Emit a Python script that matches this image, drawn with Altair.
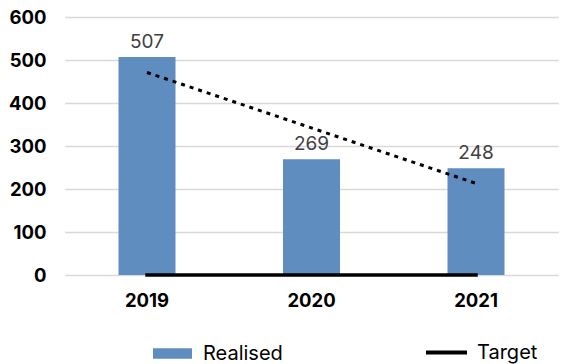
import altair as alt
import pandas as pd

years = ["2019", "2020", "2021"]
realised = [507, 269, 248]
target = [0, 0, 0]
trend_years = ["2019", "2021"]
trend_values = [471, 213]

bars_df = pd.DataFrame({"year": years, "value": realised, "series": ["Realised"] * 3})
target_df = pd.DataFrame({"year": years, "value": target, "series": ["Target"] * 3})
trend_df = pd.DataFrame({"year": trend_years, "value": trend_values})

FONT = "Inter"
BLUE = "#5f8dc0"

xscale = alt.Scale(paddingInner=0, paddingOuter=0, range=[6.75, 500.25])
x = alt.X("year:N", sort=years, title=None, scale=xscale,
          axis=alt.Axis(labelAngle=0, labelFont=FONT, labelFontSize=18.5, labelFontWeight="bold",
                        labelColor="#000000", labelPadding=16, ticks=False, domain=False, grid=False))
y = alt.Y("value:Q", title=None, scale=alt.Scale(domain=[0, 600], nice=False),
          axis=alt.Axis(values=[0, 100, 200, 300, 400, 500, 600], labelFont=FONT, labelFontSize=18.5,
                        labelFontWeight="bold", labelColor="#000000", labelPadding=12, ticks=False,
                        domain=False, gridColor="#d9d9d9", gridWidth=1.5))

bars = alt.Chart(bars_df).mark_bar(size=57).encode(
    x=x, y=y,
    fill=alt.Fill("series:N", scale=alt.Scale(domain=["Realised"], range=[BLUE]),
                  legend=alt.Legend(orient="none", legendX=95, legendY=317, title=None,
                                    symbolType="M-1,-0.27L1,-0.27L1,0.27L-1,0.27Z",
                                    symbolSize=1521, symbolStrokeWidth=0, labelFont=FONT,
                                    labelFontSize=20, labelColor="#000000", labelOffset=11)),
)

labels = alt.Chart(bars_df).mark_text(dy=-5, baseline="bottom", font=FONT, fontSize=19,
                                       color="#404040").encode(
    x=alt.X("year:N", sort=years, scale=xscale), y="value:Q", text="value:Q")

target_line = alt.Chart(target_df).mark_line(strokeWidth=3.5, strokeCap="square").encode(
    x=alt.X("year:N", sort=years, scale=xscale), y="value:Q",
    stroke=alt.Stroke("series:N", scale=alt.Scale(domain=["Target"], range=["#000000"]),
                      legend=alt.Legend(orient="none", legendX=366, legendY=313, title=None,
                                        symbolType="stroke", symbolSize=1681, symbolStrokeWidth=4,
                                        labelFont=FONT, labelFontSize=20, labelColor="#000000",
                                        labelOffset=8)),
)

trend = alt.Chart(trend_df).mark_line(color="#000000", strokeWidth=3, strokeDash=[4, 5]).encode(
    x=alt.X("year:N", sort=years, scale=xscale), y="value:Q")

chart = alt.layer(bars, labels, trend, target_line).resolve_scale(fill="independent", stroke="independent").properties(
    width=515, height=258,
    autosize=alt.AutoSizeParams(type="none"),
    padding={"left": 58, "top": 17, "right": 0, "bottom": 89},
).configure_view(stroke=None)

chart.save("out.html", embed_options={"renderer": "svg", "actions": False})
